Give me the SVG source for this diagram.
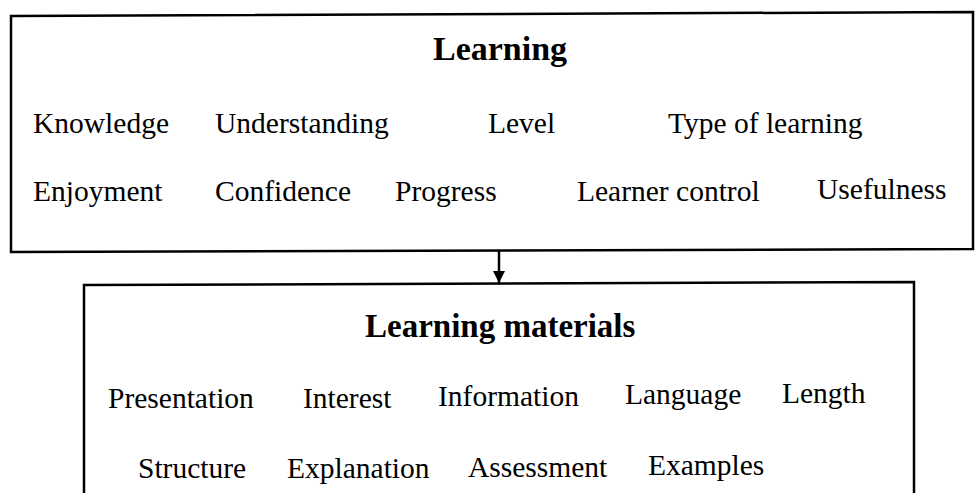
<svg xmlns="http://www.w3.org/2000/svg" width="978" height="493" viewBox="0 0 978 493">
<defs>
<style>
.box{fill:#fff;stroke:#000;stroke-width:2.5}
.t{font-family:"Liberation Serif","Times New Roman",serif;font-size:29.5px;fill:#000}
.h{font-family:"Liberation Serif","Times New Roman",serif;font-weight:bold;fill:#000}
.c{stroke:#000;stroke-width:2.5;fill:none}
</style>
<marker id="ah" markerWidth="12" markerHeight="12" refX="12" refY="6" orient="auto" markerUnits="userSpaceOnUse">
<path d="M0,0 L12,6 L0,12 Z" fill="#000"/>
</marker>
</defs>
<rect width="978" height="493" fill="#fff"/>
<g id="learning">
<path class="box" d="M11,16 L973,12 L973,249 L11,252 Z"/>
<text class="h" x="433" y="60" font-size="34">Learning</text>
<text class="t" x="33" y="133">Knowledge</text>
<text class="t" x="215" y="133">Understanding</text>
<text class="t" x="488" y="133">Level</text>
<text class="t" x="668" y="133">Type of learning</text>
<text class="t" x="33" y="201">Enjoyment</text>
<text class="t" x="215" y="201">Confidence</text>
<text class="t" x="395" y="201">Progress</text>
<text class="t" x="577" y="201">Learner control</text>
<text class="t" x="817" y="199">Usefulness</text>
</g>
<g id="learning-materials">
<path class="box" d="M84,510 L84,285 L914,282 L914,510"/>
<text class="h" x="365" y="337" font-size="33">Learning materials</text>
<text class="t" x="108" y="408">Presentation</text>
<text class="t" x="303" y="408">Interest</text>
<text class="t" x="438" y="406">Information</text>
<text class="t" x="625" y="404">Language</text>
<text class="t" x="782" y="403">Length</text>
<text class="t" x="138" y="478">Structure</text>
<text class="t" x="287" y="478">Explanation</text>
<text class="t" x="468" y="477">Assessment</text>
<text class="t" x="648" y="475">Examples</text>
</g>
<g id="connectors">
<line class="c" x1="499" y1="251" x2="499" y2="283" marker-end="url(#ah)"/>
</g>
</svg>
